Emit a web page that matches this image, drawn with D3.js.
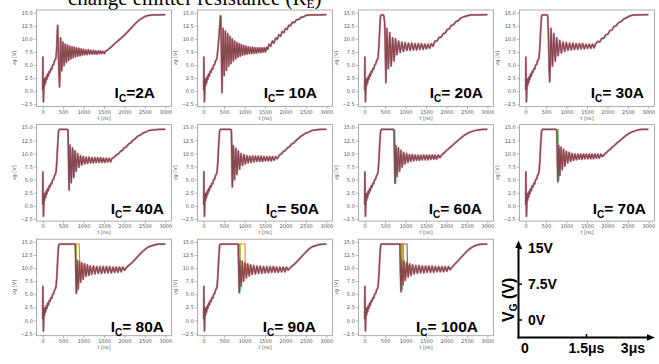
<!DOCTYPE html>
<html>
<head>
<meta charset="utf-8">
<script src="https://cdn.jsdelivr.net/npm/d3@7"></script>
<style>
  body { margin: 0; background: #fff; }
</style>
</head>
<body>
<svg id="chart" width="659" height="364"></svg>
<script>
// ---- data (gate voltage vg [V] vs t [ns]) ----
const currents = ['=2A', '= 10A', '= 20A', '= 30A', '= 40A', '= 50A', '= 60A', '= 70A', '= 80A', '= 90A', '= 100A'];
const xTicks = [0, 500, 1000, 1500, 2000, 2500, 3000];
const yTicks = [-2.5, 0, 2.5, 5, 7.5, 10, 12.5, 15];

// common turn-on part, same in every panel
const turnOn = [[0,0.2],[6,6.5],[12,2.5],[20,-2.0],[28,0.2],[36,2.2],[46,1.0],[58,2.4],[72,1.6],[88,2.8],[104,2.3],[122,3.3],[140,2.9],[160,3.8],[180,3.6],[200,4.3],[222,4.2],[245,5.0],[268,5.1],[292,5.8],[315,6.1],[330,6.6]];

const trace2A = [[345,8.5],[358,11.0],[367,12.6],[380,9.5],[396,4.0],[414,0.8],[440,10.2],[468,3.9],[496,9.4],[524,4.9],[552,9.0],[580,5.5],[608,8.8],[636,5.9],[664,8.6],[692,6.2],[720,8.5],[748,6.4],[776,8.4],[804,6.6],[832,8.3],[860,6.7],[888,8.2],[916,6.8],[944,8.1],[972,6.9],[1000,8.0],[1030,7.0],[1060,7.9],[1090,7.0],[1120,7.9],[1150,7.1],[1180,7.8],[1210,7.1],[1240,7.8],[1270,7.1],[1300,7.7],[1330,7.1],[1360,7.7],[1390,7.2],[1420,7.7],[1450,7.2],[1480,7.6],[1510,7.2],[1540,7.7],[1580,7.8],[1640,8.2],[1700,8.6],[1760,9.1],[1820,9.5],[1880,9.9],[1940,10.3],[2000,10.7],[2060,11.2],[2120,11.7],[2180,12.2],[2240,12.7],[2300,13.2],[2360,13.6],[2420,13.9],[2480,14.2],[2540,14.4],[2600,14.5],[2700,14.6],[2850,14.6],[3000,14.65]];

const trace10A = [[360,9.0],[390,12.0],[410,14.4],[420,14.3],[436,6.0],[450,-0.3],[475,12.0],[503,3.0],[531,11.5],[559,4.0],[587,11.0],[615,4.8],[643,10.5],[671,5.3],[699,10.0],[727,5.8],[755,9.6],[783,6.2],[811,9.3],[839,6.5],[867,9.1],[895,6.7],[923,8.9],[951,6.9],[979,8.7],[1007,7.0],[1035,8.6],[1063,7.1],[1091,8.5],[1119,7.2],[1147,8.4],[1175,7.2],[1203,8.4],[1231,7.3],[1259,8.3],[1287,7.3],[1315,8.3],[1343,7.4],[1371,8.3],[1399,7.4],[1427,8.3],[1455,7.5],[1483,8.3],[1511,7.5],[1540,8.4],[1570,8.0],[1600,9.0],[1640,8.6],[1680,9.6],[1720,9.2],[1760,10.2],[1800,9.9],[1840,10.8],[1880,10.5],[1920,11.4],[1960,11.2],[2000,12.0],[2040,11.8],[2080,12.6],[2120,12.5],[2170,13.2],[2220,13.1],[2270,13.7],[2320,13.7],[2380,14.1],[2440,14.2],[2500,14.5],[2600,14.6],[2800,14.6],[3000,14.65]];

const trace20A = [[350,8.8],[370,12.0],[390,14.4],[410,14.6],[450,14.6],[470,14.4],[490,13.0],[505,8.0],[520,1.6],[545,12.0],[580,4.3],[615,11.2],[650,4.8],[685,10.2],[720,5.8],[755,10.0],[790,7.0],[830,9.6],[870,7.4],[910,9.4],[950,7.6],[990,9.3],[1030,7.8],[1070,9.2],[1110,7.8],[1150,9.2],[1190,7.9],[1230,9.1],[1270,7.9],[1310,9.1],[1350,8.0],[1390,9.1],[1430,8.0],[1470,9.0],[1510,8.1],[1550,9.0],[1590,8.2],[1630,9.1],[1670,8.6],[1720,9.6],[1770,9.6],[1820,10.3],[1870,10.3],[1920,11.0],[1970,11.1],[2020,11.8],[2070,11.9],[2120,12.6],[2170,12.7],[2230,13.3],[2290,13.5],[2350,14.0],[2420,14.2],[2500,14.4],[2600,14.6],[2800,14.6],[3000,14.65]];

const trace30A = [[350,8.8],[370,12.0],[390,14.4],[410,14.6],[520,14.6],[540,14.4],[560,10.0],[575,4.0],[590,1.8],[620,12.0],[655,4.8],[690,11.0],[725,5.8],[760,10.2],[795,6.8],[835,9.7],[875,7.3],[915,9.4],[955,7.6],[995,9.3],[1035,7.8],[1075,9.2],[1115,7.9],[1155,9.2],[1195,8.0],[1235,9.1],[1275,8.0],[1315,9.1],[1355,8.1],[1395,9.1],[1435,8.1],[1475,9.0],[1515,8.2],[1555,9.0],[1595,8.2],[1635,9.0],[1675,8.3],[1715,9.1],[1760,9.5],[1810,9.4],[1860,10.1],[1910,10.1],[1960,10.8],[2010,10.9],[2060,11.6],[2110,11.7],[2160,12.4],[2210,12.5],[2270,13.1],[2330,13.3],[2400,13.8],[2470,14.1],[2550,14.4],[2650,14.6],[2800,14.6],[3000,14.65]];

const trace40A = [[350,8.8],[370,12.0],[390,14.3],[410,14.6],[600,14.6],[620,14.4],[632,9.0],[645,3.0],[670,11.5],[700,4.5],[730,11.0],[760,5.5],[790,10.5],[820,6.6],[855,10.0],[890,7.4],[925,9.6],[960,7.8],[995,9.4],[1030,8.0],[1065,9.3],[1100,8.1],[1135,9.3],[1170,8.2],[1205,9.2],[1240,8.2],[1275,9.2],[1310,8.3],[1345,9.2],[1380,8.3],[1415,9.2],[1450,8.3],[1485,9.1],[1520,8.3],[1555,9.1],[1590,8.4],[1625,9.1],[1660,8.4],[1700,9.1],[1750,9.3],[1800,9.7],[1850,9.9],[1900,10.4],[1950,10.6],[2000,11.1],[2050,11.3],[2100,11.8],[2150,12.0],[2200,12.5],[2260,12.8],[2320,13.3],[2380,13.5],[2450,13.9],[2520,14.1],[2600,14.4],[2700,14.5],[2850,14.6],[3000,14.6]];

const trace50A = [[350,8.8],[370,12.0],[390,14.3],[410,14.6],[660,14.6],[678,14.4],[690,9.0],[702,3.6],[725,11.5],[755,5.0],[785,11.0],[815,6.0],[848,10.5],[880,7.0],[915,10.0],[950,7.7],[985,9.8],[1020,8.0],[1055,9.6],[1090,8.2],[1125,9.5],[1160,8.3],[1195,9.5],[1230,8.4],[1265,9.5],[1300,8.5],[1335,9.5],[1370,8.5],[1405,9.5],[1440,8.5],[1475,9.4],[1510,8.6],[1545,9.4],[1580,8.6],[1615,9.4],[1650,8.6],[1685,9.4],[1720,8.7],[1760,9.4],[1800,9.0],[1850,9.7],[1900,9.9],[1950,10.4],[2000,10.6],[2050,11.1],[2100,11.3],[2150,11.8],[2200,12.0],[2260,12.5],[2320,12.9],[2380,13.3],[2440,13.6],[2500,13.9],[2570,14.1],[2650,14.4],[2750,14.5],[2850,14.6],[3000,14.6]];

const trace60A = [[350,8.8],[370,12.0],[390,14.3],[410,14.6],[700,14.6],[718,14.4],[730,9.0],[742,4.3],[765,11.5],[795,5.6],[825,11.1],[855,6.6],[888,10.6],[920,7.4],[955,10.2],[990,8.0],[1025,10.0],[1060,8.3],[1095,9.8],[1130,8.5],[1165,9.8],[1200,8.6],[1235,9.7],[1270,8.7],[1305,9.7],[1340,8.7],[1375,9.7],[1410,8.8],[1445,9.7],[1480,8.8],[1515,9.7],[1550,8.8],[1585,9.7],[1620,8.9],[1655,9.7],[1690,8.9],[1725,9.7],[1760,8.9],[1800,9.7],[1840,9.2],[1890,9.8],[1940,10.1],[1990,10.5],[2040,10.8],[2090,11.2],[2140,11.5],[2190,11.9],[2240,12.2],[2300,12.6],[2360,13.0],[2420,13.4],[2480,13.7],[2550,14.0],[2620,14.2],[2700,14.4],[2800,14.5],[2900,14.6],[3000,14.6]];

const trace70A = [[350,8.8],[370,12.0],[390,14.3],[410,14.6],[745,14.6],[762,14.4],[774,9.0],[786,4.6],[808,11.5],[836,5.8],[865,11.2],[895,6.9],[927,10.8],[960,7.6],[995,10.4],[1030,8.2],[1065,10.2],[1100,8.5],[1135,10.0],[1170,8.7],[1205,9.9],[1240,8.8],[1275,9.9],[1310,8.9],[1345,9.9],[1380,8.9],[1415,9.9],[1450,9.0],[1485,9.9],[1520,9.0],[1555,9.9],[1590,9.0],[1625,9.9],[1660,9.0],[1695,9.9],[1730,9.1],[1765,9.9],[1800,9.1],[1840,9.9],[1880,9.4],[1930,9.9],[1980,10.2],[2030,10.6],[2080,10.9],[2130,11.3],[2180,11.6],[2230,12.0],[2280,12.3],[2340,12.7],[2400,13.1],[2460,13.5],[2520,13.8],[2590,14.1],[2660,14.3],[2740,14.5],[2840,14.6],[3000,14.6]];

const trace80A = [[350,8.8],[370,12.0],[390,14.3],[410,14.6],[780,14.6],[800,14.5],[812,9.0],[825,5.2],[845,11.5],[870,6.0],[900,11.3],[930,7.3],[960,11.0],[990,7.9],[1025,10.8],[1060,8.4],[1095,10.6],[1130,8.6],[1165,10.4],[1200,8.8],[1240,10.4],[1280,8.9],[1320,10.3],[1360,9.0],[1400,10.3],[1440,9.0],[1480,10.3],[1520,9.1],[1560,10.3],[1600,9.1],[1640,10.3],[1680,9.1],[1720,10.2],[1760,9.2],[1800,10.2],[1840,9.2],[1880,10.2],[1920,9.3],[1960,10.2],[2000,9.6],[2060,10.2],[2120,10.6],[2180,11.0],[2240,11.5],[2300,12.0],[2360,12.5],[2420,13.0],[2480,13.4],[2540,13.8],[2600,14.1],[2680,14.3],[2760,14.5],[2850,14.6],[3000,14.6]];

const trace90A = [[350,8.8],[370,12.0],[390,14.3],[410,14.6],[830,14.6],[845,14.4],[858,9.0],[870,5.3],[890,11.5],[915,6.5],[945,11.3],[975,7.5],[1010,11.0],[1045,8.1],[1080,10.8],[1115,8.5],[1150,10.6],[1185,8.8],[1225,10.5],[1265,8.9],[1305,10.4],[1345,9.0],[1385,10.4],[1425,9.0],[1465,10.3],[1505,9.1],[1545,10.3],[1585,9.1],[1625,10.3],[1665,9.2],[1705,10.3],[1745,9.2],[1785,10.2],[1825,9.2],[1865,10.2],[1905,9.3],[1945,10.2],[1985,9.3],[2025,10.2],[2065,9.6],[2120,10.1],[2180,10.5],[2240,10.9],[2300,11.4],[2360,11.9],[2420,12.4],[2480,12.9],[2540,13.4],[2600,13.8],[2660,14.1],[2740,14.3],[2820,14.5],[2920,14.6],[3000,14.6]];

const trace100A = [[350,8.8],[370,12.0],[390,14.3],[410,14.6],[850,14.6],[862,14.4],[875,9.0],[888,5.5],[910,11.5],[935,6.8],[965,11.3],[995,7.7],[1030,11.0],[1065,8.3],[1100,10.8],[1135,8.6],[1170,10.6],[1210,8.9],[1250,10.5],[1290,9.0],[1330,10.5],[1370,9.1],[1410,10.4],[1450,9.1],[1490,10.4],[1530,9.2],[1570,10.4],[1610,9.2],[1650,10.4],[1690,9.2],[1730,10.3],[1770,9.3],[1810,10.3],[1850,9.3],[1890,10.3],[1930,9.3],[1970,10.3],[2010,9.4],[2050,10.3],[2090,9.7],[2150,10.3],[2210,10.8],[2270,11.3],[2330,11.8],[2390,12.3],[2450,12.8],[2510,13.3],[2570,13.7],[2630,14.0],[2700,14.3],[2780,14.5],[2880,14.6],[3000,14.6]];

const traces = [trace2A, trace10A, trace20A, trace30A, trace40A, trace50A, trace60A, trace70A, trace80A, trace90A, trace100A];

// other repetitions that switch off at slightly different times
const extra40A = [[[600,14.6],[625,14.5],[638,8.0],[650,3.2],[672,11.8],[702,4.2],[732,11.2],[762,5.2],[792,10.6]]];
const extra50A = [[[660,14.6],[682,14.5],[694,8.0],[706,3.8],[728,11.2],[758,5.4]]];
const extra60A = [[[700,14.6],[735,14.5],[746,8.0],[758,4.2],[780,11.0]], [[700,14.6],[722,14.5],[732,9.5],[744,5.0]]];
const extra70A = [[[745,14.6],[790,14.5],[800,8.0],[810,4.8],[830,11.0]], [[745,14.6],[772,14.5],[782,7.0],[792,4.8]]];
const extra80A = [[[780,14.6],[805,14.5],[815,8.0],[826,5.0],[846,11.0]], [[780,14.6],[818,14.5],[828,7.0],[838,5.6],[858,10.5]], [[780,14.6],[830,14.5],[838,8.0],[846,6.0]], [[780,14.6],[895,14.6],[905,11.0],[925,9.6],[955,10.8]]];
const extra90A = [[[830,14.6],[862,14.5],[872,8.0],[882,5.3],[900,11.0]], [[830,14.6],[878,14.5],[888,7.5],[898,5.8]], [[830,14.6],[895,14.5],[903,8.0],[912,6.5]], [[830,14.6],[1010,14.6],[1018,11.0],[1030,9.6],[1050,10.8]]];
const extra100A = [[[850,14.6],[890,14.5],[898,8.0],[908,5.6],[925,11.0]], [[850,14.6],[905,14.5],[913,7.0],[922,6.0]], [[850,14.6],[925,14.5],[932,8.0],[940,6.5]], [[850,14.6],[950,14.5],[958,9.0],[968,7.5]], [[850,14.6],[1036,14.6],[1044,11.0],[1056,9.6],[1075,10.5]]];
const extras = [[], [], [], [], extra40A, extra50A, extra60A, extra70A, extra80A, extra90A, extra100A];

// schematic axis in the last cell
const legendV = [0, 7.5, 15];
const legendVLabels = ['0V', '7.5V', '15V'];
const legendT = [0, 1.5, 3];
const legendTLabels = ['0', '1.5μs', '3μs'];

// ---- layout ----
const colLeft = [36.5, 197.5, 358.5, 519.5];
const rowTop = [10, 124.6, 239.2];
const boxW = 135, boxH = 96.5;
const labelGapRight = [16.5, 15.5, 10.5, 10.5, 7.5, 13.5, 11.5, 8.5, 7.5, 16.5, 15.5];
const labelGapBottom = [9, 7, 4];
const extraColors = ['#2ca02c', '#17becf', '#bcbd22', '#ff7f0e', '#8c564b'];
const extraColors1 = ['#9467bd'];

const svg = d3.select('#chart');

// title, mostly cut off at the top
const title = svg.append('text')
    .attr('x', 68)
    .attr('y', 4.5)
    .attr('font-family', 'Liberation Serif, Times New Roman, serif')
    .attr('font-size', 21)
    .attr('fill', '#000');
title.append('tspan').text('change emitter resistance (R');
title.append('tspan').attr('font-size', 13).attr('dy', 3).text('E');
title.append('tspan').attr('dy', -3).text(')');

const x = d3.scaleLinear().domain([-150, 3150]).range([0, boxW]);
const y = d3.scaleLinear().domain([-2.925, 15.525]).range([boxH, 0]);
const line = d3.line().x(d => x(d[0])).y(d => y(d[1]));

traces.forEach((tr, i) => {
  const col = i % 4, row = Math.floor(i / 4);
  const g = svg.append('g').attr('transform', 'translate(' + colLeft[col] + ',' + rowTop[row] + ')');

  g.append('clipPath').attr('id', 'clip' + i)
      .append('rect').attr('width', boxW).attr('height', boxH);

  const pts = turnOn.concat(tr);
  const lines = g.append('g').attr('clip-path', 'url(#clip' + i + ')');

  lines.append('path').datum(pts)
      .attr('d', line).attr('fill', 'none')
      .attr('stroke', '#9467bd').attr('stroke-width', 2.3).attr('stroke-opacity', 0.4)
      .attr('stroke-linejoin', 'round');
  lines.append('path').datum(pts)
      .attr('d', line).attr('fill', 'none')
      .attr('stroke', '#d62728').attr('stroke-width', 1.7).attr('stroke-opacity', 0.4)
      .attr('stroke-linejoin', 'round');

  const ex = extras[i];
  ex.forEach((seg, k) => {
    lines.append('path').datum(seg)
        .attr('d', line).attr('fill', 'none')
        .attr('stroke', i === 4 ? extraColors1[0] : extraColors[k % extraColors.length])
        .attr('stroke-width', 1.1);
  });

  lines.append('path').datum(pts)
      .attr('d', line).attr('fill', 'none')
      .attr('stroke', '#84484a').attr('stroke-width', 1.2)
      .attr('stroke-linejoin', 'round');

  g.append('rect')
      .attr('width', boxW).attr('height', boxH)
      .attr('fill', 'none').attr('stroke', '#9a9a9a').attr('stroke-width', 0.8);

  const xAxis = d3.axisBottom(x).tickValues(xTicks).tickFormat(d3.format('d')).tickSize(2.5).tickPadding(1.2);
  g.append('g')
      .attr('transform', 'translate(0,' + boxH + ')')
      .call(xAxis)
      .call(a => a.select('.domain').remove())
      .attr('font-size', 5).attr('font-family', 'DejaVu Sans, sans-serif')
      .call(a => a.selectAll('line').attr('stroke', '#888').attr('stroke-width', 0.6))
      .call(a => a.selectAll('text').attr('fill', '#555'));

  const yAxis = d3.axisLeft(y).tickValues(yTicks).tickFormat(d3.format('.1f')).tickSize(2.5).tickPadding(1.2);
  g.append('g')
      .call(yAxis)
      .call(a => a.select('.domain').remove())
      .attr('font-size', 5).attr('font-family', 'DejaVu Sans, sans-serif')
      .call(a => a.selectAll('line').attr('stroke', '#888').attr('stroke-width', 0.6))
      .call(a => a.selectAll('text').attr('fill', '#555'));

  g.append('text')
      .attr('x', boxW / 2).attr('y', boxH + 13)
      .attr('text-anchor', 'middle')
      .attr('font-size', 5).attr('font-family', 'DejaVu Sans, sans-serif').attr('fill', '#555')
      .text('t [ns]');

  g.append('text')
      .attr('transform', 'translate(-20.5,' + (boxH / 2) + ') rotate(-90)')
      .attr('text-anchor', 'middle')
      .attr('font-size', 5).attr('font-family', 'DejaVu Sans, sans-serif').attr('fill', '#555')
      .text('vg [V]');

  const lab = g.append('text')
      .attr('x', boxW - labelGapRight[i])
      .attr('y', boxH - labelGapBottom[row])
      .attr('text-anchor', 'end')
      .attr('font-family', 'Liberation Sans, Arial, sans-serif')
      .attr('font-weight', 'bold')
      .attr('font-size', 15.5)
      .attr('fill', '#000');
  lab.append('tspan').text('I');
  lab.append('tspan').attr('font-size', 10).attr('dy', 4).text('C');
  lab.append('tspan').attr('dy', -4).text(currents[i]);
});

// ---- schematic axes (bottom right) ----
const axX = 518.5, axY = 337.5;
const vScale = d3.scaleLinear().domain([0, 15]).range([320, 248.3]);
const tScale = d3.scaleLinear().domain([0, 3]).range([525, 648]);
const leg = svg.append('g');

leg.append('line')
    .attr('x1', axX).attr('y1', axY + 1).attr('x2', axX).attr('y2', 246)
    .attr('stroke', '#000').attr('stroke-width', 2);
leg.append('path')
    .attr('d', 'M' + axX + ',240.5 L' + (axX - 3.2) + ',248 L' + (axX + 3.2) + ',248 Z')
    .attr('fill', '#000');
leg.append('line')
    .attr('x1', axX - 1).attr('y1', axY).attr('x2', 648).attr('y2', axY)
    .attr('stroke', '#000').attr('stroke-width', 2);
leg.append('path')
    .attr('d', 'M655,' + axY + ' L647,' + (axY - 3.2) + ' L647,' + (axY + 3.2) + ' Z')
    .attr('fill', '#000');

leg.selectAll('.vtick').data(legendV).enter().append('line')
    .attr('x1', axX).attr('x2', axX + 3.5)
    .attr('y1', d => vScale(d)).attr('y2', d => vScale(d))
    .attr('stroke', '#000').attr('stroke-width', 1.5);

leg.selectAll('.vlab').data(legendV).enter().append('text')
    .attr('x', 528)
    .attr('y', d => vScale(d) + 5)
    .attr('font-family', 'Liberation Sans, Arial, sans-serif')
    .attr('font-weight', 'bold').attr('font-size', 14)
    .text((d, i) => legendVLabels[i]);

leg.append('line')
    .attr('x1', tScale(1.5)).attr('x2', tScale(1.5))
    .attr('y1', axY).attr('y2', axY - 3.5)
    .attr('stroke', '#000').attr('stroke-width', 1.5);

leg.selectAll('.tlab').data(legendT).enter().append('text')
    .attr('x', (d, i) => i === legendT.length - 1 ? tScale(d) - 3 : tScale(d))
    .attr('y', 352.5)
    .attr('text-anchor', (d, i) => i === legendT.length - 1 ? 'end' : 'middle')
    .attr('font-family', 'Liberation Sans, Arial, sans-serif')
    .attr('font-weight', 'bold').attr('font-size', 14)
    .text((d, i) => legendTLabels[i]);

const vg = leg.append('text')
    .attr('transform', 'translate(514,322) rotate(-90)')
    .attr('font-family', 'Liberation Sans, Arial, sans-serif')
    .attr('font-weight', 'bold').attr('font-size', 16);
vg.append('tspan').text('V');
vg.append('tspan').attr('font-size', 10).attr('dy', 3).text('G');
vg.append('tspan').attr('dy', -3).text(' (V)');
</script>
</body>
</html>
